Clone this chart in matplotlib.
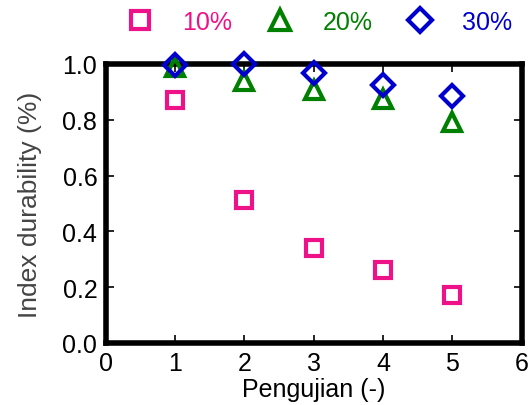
import matplotlib
matplotlib.use("Agg")
import matplotlib.pyplot as plt

plt.rcParams['font.family'] = ['Liberation Sans', 'DejaVu Sans']

pengujian = [1, 2, 3, 4, 5]
p10 = [0.872, 0.512, 0.340, 0.262, 0.172]
p20 = [0.990, 0.940, 0.908, 0.875, 0.793]
p30 = [0.996, 0.999, 0.968, 0.925, 0.884]
labels = ['10%', '20%', '30%']
colors = ['#EE1289', '#008000', '#0000CD']
markers = ['s', '^', 'D']
sizes = [12, 12.5, 11]

fig = plt.figure(figsize=(5.29, 4.06), dpi=100)
ax = fig.add_axes([105.6 / 529, 1 - 344 / 406, 416 / 529, 279 / 406])

handles = []
for ys, lab, c, m, ms in zip([p10, p20, p30], labels, colors, markers, sizes):
    h, = ax.plot(pengujian, ys, linestyle='none', marker=m, markersize=ms,
                 markerfacecolor='none', markeredgecolor=c, markeredgewidth=3,
                 clip_on=False, label=lab, zorder=3)
    handles.append(h)

ax.set_xlim(0, 6)
ax.set_ylim(0, 1.0)
ax.set_xticks(range(0, 7))
ax.set_yticks([0.0, 0.2, 0.4, 0.6, 0.8, 1.0])
ax.set_yticklabels(['0.0', '0.2', '0.4', '0.6', '0.8', '1.0'])
ax.tick_params(direction='in', length=6, width=1.2, labelsize=18,
               top=True, right=True, pad=6)
for s in ax.spines.values():
    s.set_linewidth(4)

ax.set_xlabel('Pengujian (-)', fontsize=18, labelpad=1)
ax.set_ylabel('Index durability (%)', fontsize=19, color='#444444', labelpad=15)

leg = fig.legend(handles=handles, labels=labels, loc='center',
                 bbox_to_anchor=(320 / 529, 1 - 23 / 406), ncol=3,
                 frameon=False, fontsize=18, handletextpad=1.2,
                 columnspacing=1.4, handlelength=1.0, markerscale=1.1)
for t, c in zip(leg.get_texts(), colors):
    t.set_color(c)

fig.savefig('out.png', dpi=100)
